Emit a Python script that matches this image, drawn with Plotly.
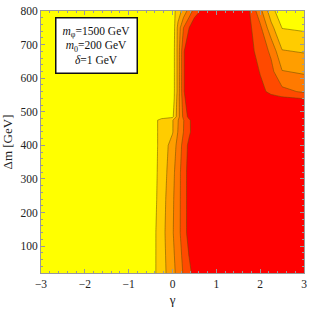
import plotly.graph_objects as go

# grid
gamma = [-3, -0.5, -0.25, 0, 0.125, 0.25, 0.375, 0.5, 0.75, 1.5, 1.75, 2.0, 2.25, 2.5, 3.0]
dm = [20, 140, 240, 320, 400, 440, 475, 485, 540, 560, 620, 680, 750, 800]

z_rows = [
    [0, 0.50, 1.54, 2.67, 3.34, 4.10, 4.72, 5.35, 6, 6, 6, 6, 6, 6, 6],
    [0, 0.45, 1.59, 2.89, 3.66, 4.50, 5.39, 6, 6, 6, 6, 6, 6, 6, 6],
    [0, 0.38, 1.49, 2.82, 3.63, 4.50, 5.39, 6, 6, 6, 6, 6, 6, 6, 6],
    [0, 0.42, 1.38, 2.67, 3.59, 4.50, 5.39, 6, 6, 6, 6, 6, 6, 6, 6],
    [0, 0.41, 1.33, 2.44, 3.32, 4.36, 5.25, 6, 6, 6, 6, 6, 6, 6, 6],
    [0, 0.57, 1.24, 1.92, 3.04, 4.00, 4.78, 5.56, 6, 6, 6, 6, 6, 6, 6],
    [0, 0.57, 1.24, 1.92, 2.95, 3.95, 4.80, 5.60, 6, 6, 6, 6, 6, 6, 6],
    [0, 0.30, 0.70, 0.75, 2.58, 4.25, 5.29, 6, 6, 6, 6, 6, 6, 6, 6],
    [0, 0, 0, 0.30, 2.50, 4.57, 6, 6, 6, 6, 6, 5.60, 5.30, 5.20, 4.95],
    [0, 0, 0, 0.30, 2.36, 4.83, 6, 6, 6, 6, 6, 5.25, 4.78, 4.30, 3.85],
    [0, 0, 0, 0.30, 2.36, 4.83, 6, 6, 6, 6, 5.59, 4.95, 4.31, 3.05, 2.86],
    [0, 0, 0, 0.30, 2.36, 4.83, 6, 6, 6, 6, 5.32, 4.63, 3.80, 2.07, 1.92],
    [0, 0, 0, 0.20, 2.29, 4.00, 4.96, 6, 6, 6, 5.21, 4.23, 2.33, 0.97, 0.83],
    [0, 0, 0, 0.57, 1.46, 2.36, 3.39, 4.35, 5.60, 6, 5.06, 3.33, 1.39, 0.30, 0.10],
]

band_colors = ["#FFFF00", "#FFCC00", "#FF9E00", "#FF7A00", "#FF4A00", "#FF0000"]
x_ticks = [-3, -2, -1, 0, 1, 2, 3]
y_ticks = [100, 200, 300, 400, 500, 600, 700, 800]

colorscale = [[i / (len(band_colors) - 1), c] for i, c in enumerate(band_colors)]

fig = go.Figure(go.Contour(
    x=gamma, y=dm, z=z_rows,
    colorscale=colorscale,
    contours=dict(start=1, end=5, size=1, coloring="fill"),
    line=dict(color="rgba(100,80,0,0.65)", width=0.8, smoothing=0),
    showscale=False,
    hoverinfo="skip",
))

axis_common = dict(
    showline=True, linecolor="#999999", linewidth=1, mirror="allticks",
    ticks="inside", ticklen=4, tickcolor="#999999",
    showgrid=False, zeroline=False,
    tickfont=dict(family="Liberation Serif", size=11.5, color="#222222"),
)

fig.update_xaxes(range=[-3, 3], tickvals=x_ticks,
                 minor=dict(ticks="inside", ticklen=2, dtick=0.2, tickcolor="#999999"),
                 title=dict(text="γ", font=dict(family="Liberation Serif", size=13, color="#222222"), standoff=6),
                 **axis_common)
fig.update_yaxes(range=[20, 800], tickvals=y_ticks,
                 minor=dict(ticks="inside", ticklen=2, dtick=20, tickcolor="#999999"),
                 title=dict(text="Δm [GeV]", font=dict(family="Liberation Serif", size=13, color="#222222"), standoff=4),
                 **axis_common)

fig.add_annotation(
    x=0.212, y=0.978, xref="paper", yref="paper", xanchor="center", yanchor="top",
    text="<i>m</i><sub>φ</sub>=1500 GeV<br><i>m</i><sub>0</sub>=200 GeV<br><i>δ</i>=1 GeV",
    showarrow=False, align="center",
    font=dict(family="Liberation Serif", size=11.5, color="#111111"),
    bgcolor="white", bordercolor="#111111", borderwidth=1.5, borderpad=6,
)

fig.update_layout(
    width=312, height=310,
    margin=dict(l=41, r=5, t=7, b=36),
    paper_bgcolor="white", plot_bgcolor="white",
)

fig.write_html("out.html", config={"displayModeBar": False},
               post_script="document.body.style.margin='0';document.body.style.overflow='hidden';")
